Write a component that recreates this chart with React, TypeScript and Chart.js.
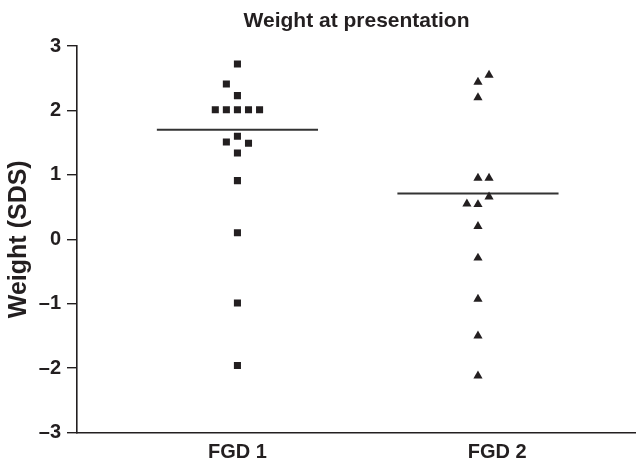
import React, { useEffect, useRef } from "react";
import { Chart, registerables } from "chart.js";

Chart.register(...registerables);

const TITLE = "Weight at presentation";
const Y_TITLE = "Weight (SDS)";
const GROUPS = ["FGD 1", "FGD 2"];
const GROUP_POS = [1, 2];
const X_LABEL_POS = [1, 2.08];

const FGD1_VALUES = [2.72, 2.41, 2.23, 2.01, 2.01, 2.01, 2.01, 2.01, 1.6, 1.51, 1.49, 1.34, 0.91, 0.1, -0.99, -1.96];
const FGD1_JITTER = [0, -1, 0, -2, -1, 0, 1, 2, 0, -1, 1, 0, 0, 0, 0, 0];
const FGD2_VALUES = [2.55, 2.44, 2.2, 0.95, 0.95, 0.66, 0.55, 0.54, 0.2, -0.29, -0.93, -1.5, -2.12];
const FGD2_JITTER = [1, 0, 0, 0, 1, 1, -1, 0, 0, 0, 0, 0, 0];
const MEDIANS = [1.7, 0.71];

const Y_TICKS = [-3, -2, -1, 0, 1, 2, 3];

const JITTER_STEP = 0.046;
const MEDIAN_HALF = 0.335;
const INK = "#231f20";
const FONT = "'Liberation Sans', Arial, Helvetica, sans-serif";

const titlePlugin = {
  id: "centerTitle",
  afterDraw(chart: any) {
    const { ctx, chartArea } = chart;
    ctx.save();
    ctx.fillStyle = INK;
    ctx.font = `bold 21px ${FONT}`;
    ctx.textAlign = "center";
    ctx.textBaseline = "alphabetic";
    ctx.fillText(TITLE, (chartArea.left + chartArea.right) / 2, 27);
    ctx.restore();
  },
};

export default function App() {
  const ref = useRef<HTMLCanvasElement | null>(null);
  useEffect(() => {
    document.body.style.margin = "0";
    const pts = (vals: number[], jit: number[], g: number) =>
      vals.map((v, i) => ({ x: GROUP_POS[g] + jit[i] * JITTER_STEP, y: v }));
    const medianLine = (g: number) => [
      { x: GROUP_POS[g] - MEDIAN_HALF, y: MEDIANS[g] },
      { x: GROUP_POS[g] + MEDIAN_HALF, y: MEDIANS[g] },
    ];
    const chart = new Chart(ref.current!, {
      type: "scatter",
      data: {
        datasets: [
          {
            label: GROUPS[0],
            data: pts(FGD1_VALUES, FGD1_JITTER, 0),
            pointStyle: "rect",
            pointRadius: 5,
            backgroundColor: INK,
            borderColor: INK,
            borderWidth: 0,
          },
          {
            label: GROUPS[1],
            data: pts(FGD2_VALUES, FGD2_JITTER, 1),
            pointStyle: "triangle",
            pointRadius: 5.3,
            backgroundColor: INK,
            borderColor: INK,
            borderWidth: 0,
          },
          {
            label: "median 1",
            data: medianLine(0),
            showLine: true,
            pointRadius: 0,
            borderColor: "#333",
            borderWidth: 1.8,
          },
          {
            label: "median 2",
            data: medianLine(1),
            showLine: true,
            pointRadius: 0,
            borderColor: "#333",
            borderWidth: 1.8,
          },
        ],
      },
      plugins: [titlePlugin],
      options: {
        animation: false,
        responsive: false,
        layout: { autoPadding: false, padding: { top: 46, right: 0, bottom: 0, left: 0 } },
        plugins: {
          legend: { display: false },
          tooltip: { enabled: false },
          title: { display: false },
        },
        scales: {
          x: {
            type: "linear",
            min: 0.333,
            max: 2.657,
            afterFit: (s: any) => {
              s.height = 29.5;
            },
            afterBuildTicks: (s: any) => {
              s.ticks = X_LABEL_POS.map((v) => ({ value: v }));
            },
            ticks: {
              autoSkip: false,
              maxRotation: 0,
              padding: 8,
              color: INK,
              font: { family: FONT, size: 20, weight: "bold" },
              callback: (v: any) => {
                const i = X_LABEL_POS.indexOf(Number(v));
                return i >= 0 ? GROUPS[i] : "";
              },
            },
            grid: { display: true, drawOnChartArea: false, drawTicks: false, color: INK, lineWidth: 0 },
            border: { display: true, color: INK, width: 1.6 },
          },
          y: {
            min: -3,
            max: 3,
            afterFit: (s: any) => {
              s.width = 77;
            },
            afterBuildTicks: (s: any) => {
              s.ticks = Y_TICKS.map((v) => ({ value: v }));
            },
            ticks: {
              padding: 6,
              color: INK,
              font: { family: FONT, size: 20, weight: "bold" },
              callback: (v: any) => (Number(v) < 0 ? "\u2013" + Math.abs(Number(v)) : String(v)),
            },
            grid: { display: true, drawOnChartArea: false, drawTicks: true, tickLength: 10, color: INK, lineWidth: 1.4 },
            border: { display: true, color: INK, width: 1.6 },
            title: {
              display: true,
              text: Y_TITLE,
              color: INK,
              font: { family: FONT, size: 25, weight: "bold" },
              padding: { top: 4, bottom: 0 },
            },
          },
        },
      },
    });
    return () => chart.destroy();
  }, []);
  return (
    <div style={{ width: 636, height: 462 }}>
      <canvas ref={ref} width={636} height={462} style={{ display: "block" }} />
    </div>
  );
}
